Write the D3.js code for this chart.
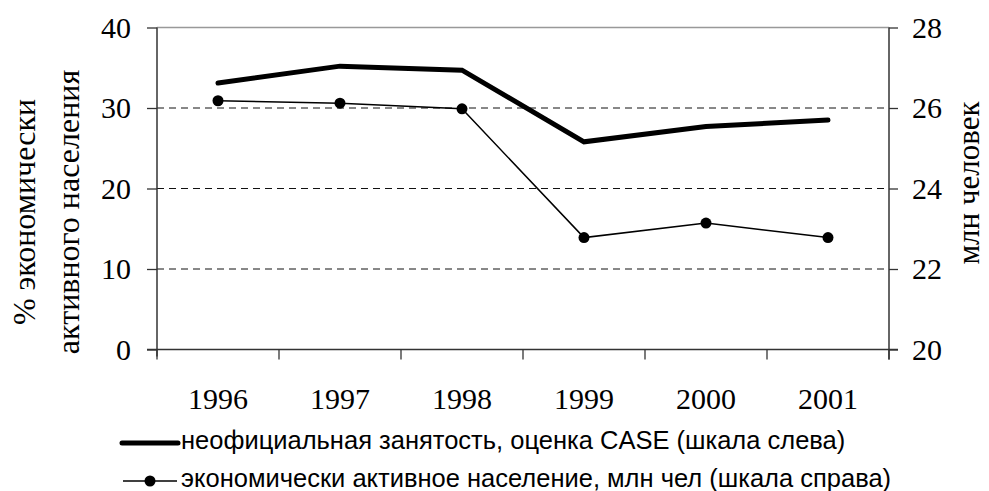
<!DOCTYPE html>
<html>
<head>
<meta charset="utf-8">
<script src="https://cdn.jsdelivr.net/npm/d3@7"></script>
<style>
  body { margin: 0; background: #fff; }
  svg { display: block; }
</style>
</head>
<body>
<div id="vis"></div>
<script>
// Frame constants
const FRAME_WIDTH = 989;
const FRAME_HEIGHT = 491;
const PLOT = {left: 157, right: 889, top: 27.5, bottom: 349.5};

// Data
const years = ["1996", "1997", "1998", "1999", "2000", "2001"];
const informal = [33.1, 35.2, 34.7, 25.8, 27.7, 28.5];        // % (left scale)
const activePop = [26.18, 26.12, 25.98, 22.78, 23.14, 22.78]; // mln (right scale)
const leftTicks = [0, 10, 20, 30, 40];
const rightTicks = [20, 22, 24, 26, 28];
const legendLabels = [
  "неофициальная занятость, оценка CASE (шкала слева)",
  "экономически активное население, млн чел (шкала справа)"
];

const SERIF = "'Liberation Serif', 'Times New Roman', serif";
const SANS = "'Liberation Sans', Arial, sans-serif";

const FRAME = d3.select("#vis")
  .append("svg")
    .attr("width", FRAME_WIDTH)
    .attr("height", FRAME_HEIGHT);

// Scales
const X_SCALE = d3.scaleBand()
  .domain(years)
  .range([PLOT.left, PLOT.right]);

const Y_LEFT = d3.scaleLinear()
  .domain([0, 40])
  .range([PLOT.bottom, PLOT.top]);

const Y_RIGHT = d3.scaleLinear()
  .domain([20, 28])
  .range([PLOT.bottom, PLOT.top]);

// Gridlines
FRAME.selectAll(".grid")
  .data(leftTicks.filter(d => d > 0 && d < 40))
  .enter()
  .append("line")
    .attr("x1", PLOT.left)
    .attr("x2", PLOT.right)
    .attr("y1", d => Y_LEFT(d))
    .attr("y2", d => Y_LEFT(d))
    .attr("stroke", "#111")
    .attr("stroke-width", 1)
    .attr("stroke-dasharray", "7,5");

// top border of the plot area
FRAME.append("line")
  .attr("x1", PLOT.left).attr("x2", PLOT.right)
  .attr("y1", Y_LEFT(40)).attr("y2", Y_LEFT(40))
  .attr("stroke", "#999")
  .attr("stroke-width", 1.5);

// Left axis
const leftAxis = FRAME.append("g")
  .attr("transform", "translate(" + PLOT.left + ",0)")
  .call(d3.axisLeft(Y_LEFT).tickValues(leftTicks).tickSize(10).tickPadding(16));

// Right axis
const rightAxis = FRAME.append("g")
  .attr("transform", "translate(" + PLOT.right + ",0)")
  .call(d3.axisRight(Y_RIGHT).tickValues(rightTicks).tickSize(9).tickPadding(14));

// Bottom axis: ticks at category boundaries
const bottomAxis = FRAME.append("g")
  .attr("transform", "translate(0," + PLOT.bottom + ")")
  .call(d3.axisBottom(X_SCALE).tickSize(0).tickPadding(38));

bottomAxis.selectAll(".bound")
  .data(years.concat(["end"]))
  .enter()
  .append("line")
    .attr("class", "bound")
    .attr("x1", (d, i) => i < years.length ? X_SCALE(d) : PLOT.right)
    .attr("x2", (d, i) => i < years.length ? X_SCALE(d) : PLOT.right)
    .attr("y1", 0)
    .attr("y2", 10)
    .attr("stroke", "#333")
    .attr("stroke-width", 1.3);

[leftAxis, rightAxis, bottomAxis].forEach(ax => {
  ax.select(".domain").attr("stroke", "#333").attr("stroke-width", 1.5);
  ax.selectAll(".tick line").attr("stroke", "#333").attr("stroke-width", 1.3);
  ax.selectAll("text")
    .attr("font-family", SERIF)
    .attr("font-size", "30px")
    .attr("fill", "#000");
});
// extend axis lines a little below the x-axis, like the original
leftAxis.select(".domain").attr("d", "M0," + PLOT.top + "V" + (PLOT.bottom + 7));
rightAxis.select(".domain").attr("d", "M0," + PLOT.top + "V" + (PLOT.bottom + 10));
bottomAxis.select(".domain").attr("d", "M" + (PLOT.left - 10) + ",0H" + (PLOT.right + 9));

// Axis titles
const leftTitle = FRAME.append("text")
  .attr("transform", "translate(35,212) rotate(-90)")
  .attr("text-anchor", "middle")
  .attr("font-family", SERIF)
  .attr("font-size", "32px");
leftTitle.append("tspan").attr("x", 0).attr("dy", 0).text("% экономически");
leftTitle.append("tspan").attr("x", 0).attr("dy", 44).text("активного населения");

FRAME.append("text")
  .attr("transform", "translate(979,183) rotate(-90)")
  .attr("text-anchor", "middle")
  .attr("font-family", SERIF)
  .attr("font-size", "31px")
  .text("млн человек");

// Lines
const xc = d => X_SCALE(d) + X_SCALE.bandwidth() / 2;

const informalLine = d3.line()
  .x((d, i) => xc(years[i]))
  .y(d => Y_LEFT(d));

const popLine = d3.line()
  .x((d, i) => xc(years[i]))
  .y(d => Y_RIGHT(d));

FRAME.append("path")
  .datum(informal)
  .attr("d", informalLine)
  .attr("fill", "none")
  .attr("stroke", "#000")
  .attr("stroke-width", 5)
  .attr("stroke-linecap", "round");

FRAME.append("path")
  .datum(activePop)
  .attr("d", popLine)
  .attr("fill", "none")
  .attr("stroke", "#000")
  .attr("stroke-width", 1.5);

FRAME.selectAll(".point")
  .data(activePop)
  .enter()
  .append("circle")
    .attr("class", "point")
    .attr("cx", (d, i) => xc(years[i]))
    .attr("cy", d => Y_RIGHT(d))
    .attr("r", 5.5)
    .attr("fill", "#000");

// Legend
const legend = FRAME.append("g");
const legendY = [443, 481];

legend.append("line")
  .attr("x1", 122).attr("x2", 178)
  .attr("y1", legendY[0]).attr("y2", legendY[0])
  .attr("stroke", "#000").attr("stroke-width", 5)
  .attr("stroke-linecap", "round");

legend.append("line")
  .attr("x1", 123).attr("x2", 177)
  .attr("y1", legendY[1]).attr("y2", legendY[1])
  .attr("stroke", "#000").attr("stroke-width", 1.5);

legend.append("circle")
  .attr("cx", 150).attr("cy", legendY[1]).attr("r", 5.5)
  .attr("fill", "#000");

legend.selectAll(".legend-text")
  .data(legendLabels)
  .enter()
  .append("text")
    .attr("class", "legend-text")
    .attr("x", 181)
    .attr("y", (d, i) => legendY[i] + 6)
    .attr("font-family", SANS)
    .attr("font-size", "25.5px")
    .attr("fill", "#000")
    .text(d => d);
</script>
</body>
</html>
